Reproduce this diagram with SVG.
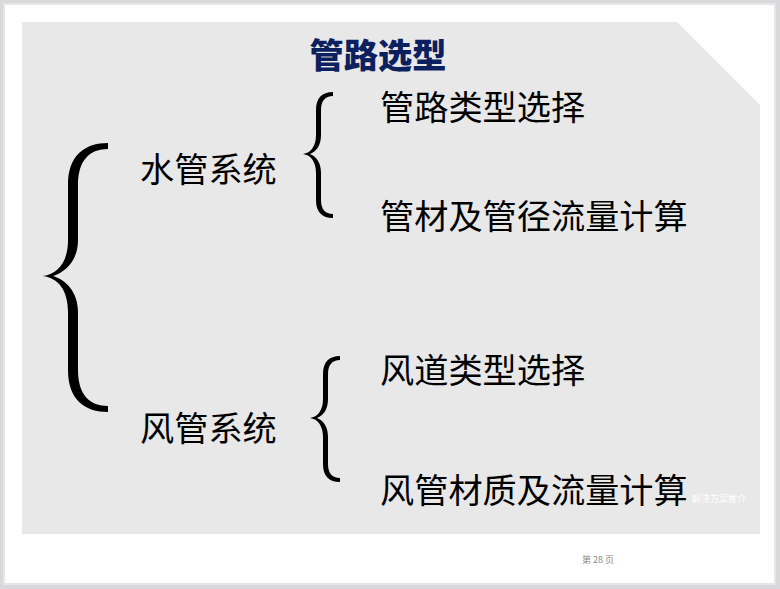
<svg xmlns="http://www.w3.org/2000/svg" width="780" height="589" viewBox="0 0 780 589">
<style>
.t{font-family:"Noto Sans CJK SC","Noto Sans",sans-serif;font-size:34.2px;fill:#000}
.h{font-family:"Noto Sans CJK SC","Noto Sans",sans-serif;font-size:34.2px;font-weight:900;fill:#0c1f5e}
.s{font-family:"Noto Sans CJK SC","Noto Sans",sans-serif;font-size:9px}
.b{fill:#000}
</style>
<defs>
<path id="sb" d="M333,92 C322,92 316,98 316,110 L316,135 C316,146 311,153 303,154 C311,155 316,162 316,173 L316,200 C316,212 322,218 333,218 L333,214 C325,214 321,209 321,200 L321,173 C321,163 317,157 310,154 C317,151 321,145 321,135 L321,110 C321,101 325,96 333,96 Z"/>
</defs>
<rect x="0" y="0" width="780" height="589" fill="#d9d9db"/>
<rect x="4" y="4" width="771" height="580" fill="#ffffff" stroke="#e6e6e8" stroke-width="2"/>
<polygon points="22,22 677,22 760,105 760,534 22,534" fill="#e8e8e8"/>
<g id="title"><text class="h" x="378" y="68" text-anchor="middle">管路选型</text></g>
<g id="brace-main"><path class="b" d="M108,143 C85,143 68,155 68,185 L68,240 C68,262 58,274 43,276 C58,278 68,290 68,312 L68,370 C68,400 85,412 108,412 L108,406 C90,406 78,395 78,370 L78,312 C78,292 66,280 53,276 C66,272 78,260 78,240 L78,185 C78,160 90,149 108,149 Z"/></g>
<g id="node-water"><text class="t" x="140" y="182">水管系统</text></g>
<g id="brace-water"><use href="#sb" class="b"/></g>
<g id="node-water-1"><text class="t" x="380" y="120">管路类型选择</text></g>
<g id="node-water-2"><text class="t" x="380" y="229">管材及管径流量计算</text></g>
<g id="node-air"><text class="t" x="140" y="441">风管系统</text></g>
<g id="brace-air"><use href="#sb" class="b" transform="translate(7,264)"/></g>
<g id="node-air-1"><text class="t" x="380" y="383">风道类型选择</text></g>
<g id="node-air-2"><text class="t" x="380" y="503">风管材质及流量计算</text></g>
<g id="connectors"></g>
<text class="s" x="692" y="502" fill="#ffffff">解决方案推介</text>
<text class="s" x="598" y="563" fill="#888888" text-anchor="middle">第 28 页</text>
</svg>
